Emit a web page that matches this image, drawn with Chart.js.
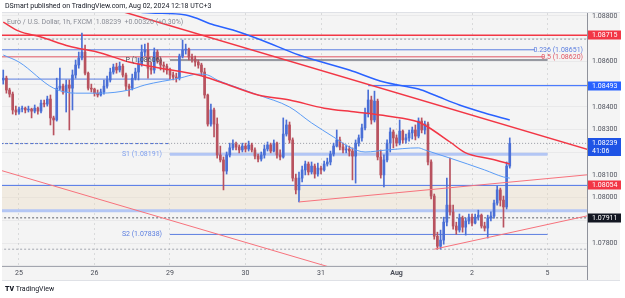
<!DOCTYPE html>
<html>
<head>
<meta charset="utf-8">
<script src="https://cdn.jsdelivr.net/npm/chart.js@4.4.1/dist/chart.umd.min.js"></script>
<style>
  html, body { margin: 0; padding: 0; background: #fff; }
  #wrap { position: relative; width: 625px; height: 298px; font-family: Roboto, sans-serif; }
  canvas { position: absolute; left: 0; top: 0; }
  .txt { position: absolute; white-space: nowrap; line-height: 1; }
</style>
</head>
<body>
<div id="wrap">
  <canvas id="myChart" width="625" height="298"></canvas>
  <div class="txt" style="left:5px;top:3px;font-size:7px;color:#131722">DSmart published on TradingView.com, Aug 02, 2024 12:18 UTC+3</div>
  <div class="txt" style="left:7px;top:19px;font-size:7px;color:#8a8d96">Euro / U.S. Dollar, 1h, FXCM&nbsp; 1.08239&nbsp; +0.00326 (+0.30%)</div>
  <div class="txt" style="left:5px;top:286px;font-size:7px;color:#131722"><b style="font-weight:900">TV</b> TradingView</div>
</div>
<script>
// hours counted from Jul 25 00:00, one tick per trading day
const dayTicks = [0, 24, 48, 72, 96, 120, 144, 168];
const dayLabels = ["25", "26", "29", "30", "31", "Aug", "2", "5"];

// hourly EURUSD candles, first one at hour -5 (Jul 24 19:00)
const firstHour = -5;
const firstOpen = 1.08518;
const closes = [
  1.08526, 1.08474, 1.08456, 1.08386, 1.08377,
  1.08390, 1.08394, 1.08386, 1.08390, 1.08381, 1.08394, 1.08381, 1.08416, 1.08412, 1.08434, 1.08351, 1.08342,
  1.08482, 1.08491, 1.08465, 1.08496, 1.08482, 1.08540, 1.08584, 1.08615, 1.08641, 1.08548, 1.08482, 1.08478,
  1.08460, 1.08452, 1.08465, 1.08491, 1.08518, 1.08553, 1.08575, 1.08562, 1.08579, 1.08540, 1.08491, 1.08482,
  1.08526, 1.08553, 1.08588, 1.08641, 1.08650, 1.08570, 1.08562, 1.08641, 1.08606, 1.08584, 1.08579, 1.08562,
  1.08540, 1.08531, 1.08526, 1.08623, 1.08650, 1.08654, 1.08619, 1.08610, 1.08597, 1.08584, 1.08553, 1.08452,
  1.08324, 1.08386, 1.08324, 1.08188, 1.08166, 1.08117, 1.08188, 1.08219, 1.08236, 1.08223, 1.08210, 1.08227,
  1.08214, 1.08232, 1.08210, 1.08183, 1.08170, 1.08188, 1.08214, 1.08232, 1.08205, 1.08240, 1.08188, 1.08179,
  1.08280, 1.08320, 1.08254, 1.08086, 1.08034, 1.08086, 1.08122, 1.08148, 1.08113, 1.08139, 1.08104, 1.08130,
  1.08122, 1.08148, 1.08157, 1.08192, 1.08227, 1.08254, 1.08223, 1.08210, 1.08214, 1.08205, 1.08183, 1.08240,
  1.08263, 1.08307, 1.08373, 1.08430, 1.08342, 1.08425, 1.08179, 1.08100, 1.08166, 1.08240, 1.08289, 1.08263,
  1.08240, 1.08293, 1.08254, 1.08263, 1.08285, 1.08298, 1.08271, 1.08337, 1.08298, 1.08324, 1.08157, 1.08007,
  1.07830, 1.07786, 1.07813, 1.07892, 1.07967, 1.07937, 1.07875, 1.07857, 1.07910, 1.07870, 1.07897, 1.07914,
  1.07888, 1.07914, 1.07923, 1.07875, 1.07866, 1.07910, 1.07919, 1.07976, 1.08034, 1.07989, 1.07959, 1.08139, 1.08239
];
const highs = [
  1.08562, 1.08535, 1.08482, 1.08465, 1.08403,
  1.08399, 1.08403, 1.08399, 1.08403, 1.08394, 1.08408, 1.08399, 1.08430, 1.08430, 1.08447, 1.08452, 1.08359,
  1.08526, 1.08570, 1.08500, 1.08518, 1.08518, 1.08562, 1.08606, 1.08641, 1.08725, 1.08672, 1.08553, 1.08500,
  1.08482, 1.08474, 1.08478, 1.08518, 1.08535, 1.08570, 1.08588, 1.08592, 1.08597, 1.08588, 1.08548, 1.08500,
  1.08544, 1.08570, 1.08615, 1.08672, 1.08676, 1.08681, 1.08597, 1.08659, 1.08650, 1.08615, 1.08597, 1.08588,
  1.08570, 1.08553, 1.08548, 1.08632, 1.08694, 1.08676, 1.08659, 1.08632, 1.08623, 1.08606, 1.08592, 1.08570,
  1.08456, 1.08412, 1.08394, 1.08351, 1.08227, 1.08179, 1.08201, 1.08240, 1.08254, 1.08245, 1.08232, 1.08240,
  1.08240, 1.08249, 1.08240, 1.08219, 1.08192, 1.08201, 1.08232, 1.08245, 1.08240, 1.08254, 1.08245, 1.08210,
  1.08351, 1.08342, 1.08333, 1.08263, 1.08104, 1.08113, 1.08139, 1.08161, 1.08157, 1.08157, 1.08148, 1.08152,
  1.08139, 1.08161, 1.08174, 1.08205, 1.08240, 1.08298, 1.08267, 1.08240, 1.08232, 1.08227, 1.08219, 1.08254,
  1.08276, 1.08324, 1.08394, 1.08474, 1.08447, 1.08469, 1.08434, 1.08210, 1.08188, 1.08254, 1.08307, 1.08298,
  1.08276, 1.08342, 1.08298, 1.08280, 1.08298, 1.08311, 1.08320, 1.08351, 1.08351, 1.08337, 1.08333, 1.08166,
  1.08016, 1.07848, 1.07857, 1.07914, 1.08086, 1.08174, 1.07967, 1.07892, 1.07928, 1.07919, 1.07910, 1.07928,
  1.07928, 1.07928, 1.07945, 1.07928, 1.07892, 1.07923, 1.07937, 1.07989, 1.08051, 1.08042, 1.08007, 1.08157, 1.08263
];
const lows = [
  1.08500, 1.08460, 1.08443, 1.08368, 1.08364,
  1.08368, 1.08377, 1.08373, 1.08377, 1.08351, 1.08373, 1.08368, 1.08373, 1.08399, 1.08403, 1.08320, 1.08276,
  1.08337, 1.08474, 1.08456, 1.08377, 1.08298, 1.08386, 1.08526, 1.08570, 1.08606, 1.08540, 1.08474, 1.08465,
  1.08447, 1.08443, 1.08447, 1.08456, 1.08482, 1.08509, 1.08544, 1.08548, 1.08553, 1.08531, 1.08474, 1.08447,
  1.08474, 1.08518, 1.08518, 1.08579, 1.08623, 1.08526, 1.08544, 1.08548, 1.08592, 1.08562, 1.08553, 1.08544,
  1.08522, 1.08518, 1.08509, 1.08518, 1.08615, 1.08632, 1.08606, 1.08597, 1.08579, 1.08570, 1.08540, 1.08438,
  1.08315, 1.08315, 1.08267, 1.08174, 1.08157, 1.08034, 1.08104, 1.08179, 1.08210, 1.08210, 1.08197, 1.08201,
  1.08201, 1.08205, 1.08201, 1.08170, 1.08157, 1.08161, 1.08174, 1.08205, 1.08197, 1.08201, 1.08174, 1.08166,
  1.08174, 1.08271, 1.08240, 1.08073, 1.08016, 1.07981, 1.08069, 1.08100, 1.08100, 1.08104, 1.08086, 1.08095,
  1.08104, 1.08117, 1.08139, 1.08144, 1.08183, 1.08223, 1.08210, 1.08197, 1.08197, 1.08183, 1.08078, 1.08064,
  1.08227, 1.08249, 1.08298, 1.08355, 1.08324, 1.08333, 1.08166, 1.08086, 1.08047, 1.08157, 1.08201, 1.08219,
  1.08227, 1.08232, 1.08240, 1.08240, 1.08249, 1.08258, 1.08254, 1.08263, 1.08285, 1.08280, 1.08144, 1.07994,
  1.07817, 1.07773, 1.07773, 1.07795, 1.07875, 1.07923, 1.07861, 1.07839, 1.07848, 1.07848, 1.07835, 1.07884,
  1.07875, 1.07884, 1.07901, 1.07866, 1.07853, 1.07822, 1.07897, 1.07910, 1.07967, 1.07963, 1.07870, 1.07950, 1.08130
];

const maSlowHours = [38, 42, 53, 62, 68, 77, 89, 105, 116, 127, 132, 140, 148, 156];
const maSlow = [1.08817, 1.08813, 1.08804, 1.08760, 1.08738, 1.08694, 1.08628, 1.08562, 1.08509, 1.08478, 1.08452, 1.08408, 1.08373, 1.08342];
const maRedHours = [-5, 0, 7, 16, 26, 35, 45, 57, 64, 76, 86, 97, 107, 117, 127, 130, 137, 142, 150, 156];
const maRed = [1.08773, 1.08733, 1.08707, 1.08667, 1.08637, 1.08597, 1.08570, 1.08540, 1.08509, 1.08452, 1.08430, 1.08394, 1.08377, 1.08359, 1.08333, 1.08311, 1.08245, 1.08197, 1.08170, 1.08148];
const maFastHours = [-5, 0, 11, 18, 26, 35, 40, 51, 57, 60, 63, 70, 76, 86, 93, 100, 105, 110, 117, 127, 129, 137, 148, 154, 156];
const maFast = [1.08628, 1.08597, 1.08482, 1.08460, 1.08460, 1.08474, 1.08496, 1.08526, 1.08544, 1.08540, 1.08518, 1.08482, 1.08452, 1.08399, 1.08329, 1.08267, 1.08223, 1.08201, 1.08210, 1.08219, 1.08210, 1.08174, 1.08122, 1.08091, 1.08086];

// trend lines: start/end hour and price
const trendHours = [[30, 181], [89, 181], [132, 181], [-6, 100]];
const trendPrices = [[1.08831, 1.08211], [1.07981, 1.08101], [1.07773, 1.07921], [1.08121, 1.07689]];

// horizontal levels
const levelPrices = [1.08715, 1.08698, 1.08651, 1.08620, 1.08493, 1.08239, 1.08054, 1.07942, 1.07911, 1.07773];
const levelFrom = [-6, -6, -6, -6, 111, -6, -6, -6, -6, -6];
const levelTo = [181, 181, 164, 167, 181, 181, 181, 181, 181, 181];
const zonePrices = [1.08054, 1.07942];

const fibRatios = ["0.236", "0.5"];
const fibPrices = [1.08651, 1.08620];
const pivotNames = ["P", "S1", "S2"];
const pivotPrices = [1.08606, 1.08191, 1.07838];
const pivotHours = [48, 168];
const prevPivotPrices = [1.08522, 1.08238];
const prevPivotHours = [-6, 48];

const tagPrices = [1.08715, 1.08493, 1.08239, 1.08054, 1.07911];
const countdown = "41:06";
const priceTicks = [1.077, 1.078, 1.079, 1.080, 1.081, 1.082, 1.083, 1.084, 1.085, 1.086, 1.087, 1.088];
const hiddenTicks = [1.077, 1.079, 1.082, 1.085, 1.087];

Chart.defaults.font.family = "Roboto";
Chart.defaults.font.size = 7;

const UP = "#4a6fd6";
const DOWN = "#b8525f";
const hours = closes.map((_, k) => firstHour + k);
const opens = closes.map((c, k) => (k ? closes[k - 1] : firstOpen));
const candleColors = closes.map((c, k) => (c >= opens[k] ? UP : DOWN));

const pts = (hs, vs) => hs.map((h, k) => ({ x: h, y: vs[k] }));
const line = (data, color, width, extra) =>
  Object.assign({ type: "line", data, borderColor: color, borderWidth: width, pointRadius: 0, fill: false, tension: 0, order: 1, clip: 0 }, extra || {});

const levelStyles = [
  ["#f23645", 1.5, []],
  ["#9598a1", 1, [2, 2]],
  ["#5b7ee0", 1, []],
  ["#e05563", 1, []],
  ["#2962ff", 1, []],
  ["#9598a1", 1, [1, 2]],
  ["#4c72e6", 1, []],
  ["#b3c6f4", 3, []],
  ["#5d606b", 1, [2, 2]],
  ["#a3a6af", 1, [2, 2]],
];
const pivotStyles = [["#787b86", 1.5], ["#b3c6f4", 3], ["#5b7ee0", 1]];

const datasets = [];
// shaded zone
datasets.push(line(pts([-6, 181], [zonePrices[0], zonePrices[0]]), "rgba(0,0,0,0)", 0, { fill: "+1", backgroundColor: "rgba(236,218,190,0.35)", order: 20 }));
datasets.push(line(pts([-6, 181], [zonePrices[1], zonePrices[1]]), "rgba(0,0,0,0)", 0, { order: 20 }));
levelPrices.forEach((p, k) => {
  const [c, w, d] = levelStyles[k];
  datasets.push(line(pts([levelFrom[k], levelTo[k]], [p, p]), c, w, { borderDash: d, order: 10 }));
});
pivotPrices.forEach((p, k) => {
  datasets.push(line(pts(pivotHours, [p, p]), pivotStyles[k][0], pivotStyles[k][1], { order: 10 }));
});
datasets.push(line(pts(prevPivotHours, [prevPivotPrices[0], prevPivotPrices[0]]), "#5b7ee0", 1, { order: 10 }));
datasets.push(line(pts(prevPivotHours, [prevPivotPrices[1], prevPivotPrices[1]]), "#3f66dc", 1, { borderDash: [3, 2], order: 10 }));
// candles
datasets.push({
  type: "bar", order: 6, grouped: false, barThickness: 1,
  data: hours.map((h, k) => ({ x: h, y: [Math.min(lows[k], opens[k], closes[k]), Math.max(highs[k], opens[k], closes[k])] })),
  backgroundColor: candleColors,
});
datasets.push({
  type: "bar", order: 5, grouped: false, barThickness: 2,
  data: hours.map((h, k) => ({ x: h, y: [opens[k], closes[k]] })),
  backgroundColor: candleColors,
});
// indicators and trend lines
datasets.push(line(pts(maSlowHours, maSlow), "#2962ff", 1.5, { cubicInterpolationMode: "monotone", order: 2 }));
datasets.push(line(pts(maRedHours, maRed), "#f23645", 1.5, { cubicInterpolationMode: "monotone", order: 2 }));
datasets.push(line(pts(maFastHours, maFast), "#5b9cf6", 1, { cubicInterpolationMode: "monotone", order: 2 }));
const trendStyles = [["#f23645", 1.5], ["#f7727c", 1], ["#f7727c", 1], ["#f7727c", 1]];
trendHours.forEach((hs, k) => {
  datasets.push(line(pts(hs, trendPrices[k]), trendStyles[k][0], trendStyles[k][1], { order: 1 }));
});

const tagColors = ["#f23645", "#2962ff", "#1e53e5", "#f23645", "#131722"];
const fibColors = ["#5b7ee0", "#e05563"];
const pivotTextColors = ["#4a4d57", "#7fa0ee", "#5b7ee0"];

const overlay = {
  id: "overlay",
  beforeDraw(chart) {
    const { ctx, chartArea: a } = chart;
    ctx.save();
    ctx.fillStyle = "#ffffff";
    ctx.fillRect(0, 0, chart.width, chart.height);
    ctx.fillStyle = "#f4f4f4";
    ctx.fillRect(a.left, a.top, chart.width - 5 - a.left, a.bottom + 14 - a.top);
    ctx.restore();
  },
  afterDraw(chart) {
    const { ctx, chartArea: a, scales } = chart;
    const x = scales.x, y = scales.y;
    ctx.save();
    ctx.lineWidth = 1;
    ctx.strokeStyle = "#8f929b";
    ctx.beginPath();
    ctx.moveTo(a.right + 0.5, a.bottom);
    ctx.lineTo(a.right + 0.5, a.bottom + 14);
    ctx.stroke();
    ctx.strokeStyle = "#dfe1e6";
    ctx.beginPath();
    ctx.moveTo(a.left, a.bottom + 14.5);
    ctx.lineTo(chart.width - 5, a.bottom + 14.5);
    ctx.moveTo(a.left, a.top - 0.5);
    ctx.lineTo(chart.width - 5, a.top - 0.5);
    ctx.stroke();

    ctx.font = "7px Roboto";
    ctx.textBaseline = "middle";
    ctx.textAlign = "right";
    fibRatios.forEach((r, k) => {
      ctx.fillStyle = fibColors[k];
      ctx.fillText(r + " (" + fibPrices[k].toFixed(5) + ")", a.right - 4, y.getPixelForValue(fibPrices[k]));
    });
    pivotNames.forEach((n, k) => {
      ctx.fillStyle = pivotTextColors[k];
      ctx.fillText(n + " (" + pivotPrices[k].toFixed(5) + ")", x.getPixelForValue(pivotHours[0]) - 8, y.getPixelForValue(pivotPrices[k]));
    });

    ctx.textAlign = "left";
    tagPrices.forEach((p, k) => {
      const py = Math.round(y.getPixelForValue(p));
      const two = p === closes[closes.length - 1];
      ctx.fillStyle = tagColors[k];
      ctx.fillRect(a.right + 1, two ? py - 5 : py - 4.5, 33, two ? 18 : 9);
      ctx.fillStyle = "#ffffff";
      ctx.fillText(p.toFixed(5), a.right + 5, py);
      if (two) ctx.fillText(countdown, a.right + 5, py + 8.5);
    });
    ctx.restore();
  },
};

new Chart(document.getElementById("myChart"), {
  type: "bar",
  data: { datasets },
  options: {
    responsive: false,
    animation: false,
    layout: { padding: { left: 2, top: 13, right: 0, bottom: 18 } },
    plugins: { legend: { display: false }, tooltip: { enabled: false } },
    scales: {
      x: {
        type: "linear",
        min: -5.4,
        max: 180.55,
        offset: false,
        afterBuildTicks: (s) => { s.ticks = dayTicks.map((v) => ({ value: v })); },
        afterFit: (s) => { s.height = 14; },
        ticks: {
          autoSkip: false,
          maxRotation: 0,
          padding: 3,
          color: "#4a4d57",
          callback: (v) => dayLabels[dayTicks.indexOf(v)],
          font: (c) => ({ size: 7, weight: dayLabels[c.index] === "Aug" ? "bold" : "normal" }),
        },
        grid: { offset: false, drawTicks: false, color: "rgba(42,46,57,0.13)" },
        border: { display: true, color: "#a3a6af", dash: [2, 3] },
      },
      y: {
        position: "right",
        min: 1.07699,
        max: 1.08813,
        afterBuildTicks: (s) => { s.ticks = priceTicks.map((v) => ({ value: v })); },
        afterFit: (s) => { s.width = 38; },
        ticks: {
          padding: 5,
          color: "#50535e",
          callback: (v) => (hiddenTicks.some((h) => Math.abs(h - v) < 1e-7) ? "" : v.toFixed(5)),
        },
        grid: { drawTicks: false, color: "rgba(42,46,57,0.05)" },
        border: { display: true, color: "#8f929b" },
      },
    },
  },
  plugins: [overlay],
});
</script>
</body>
</html>
